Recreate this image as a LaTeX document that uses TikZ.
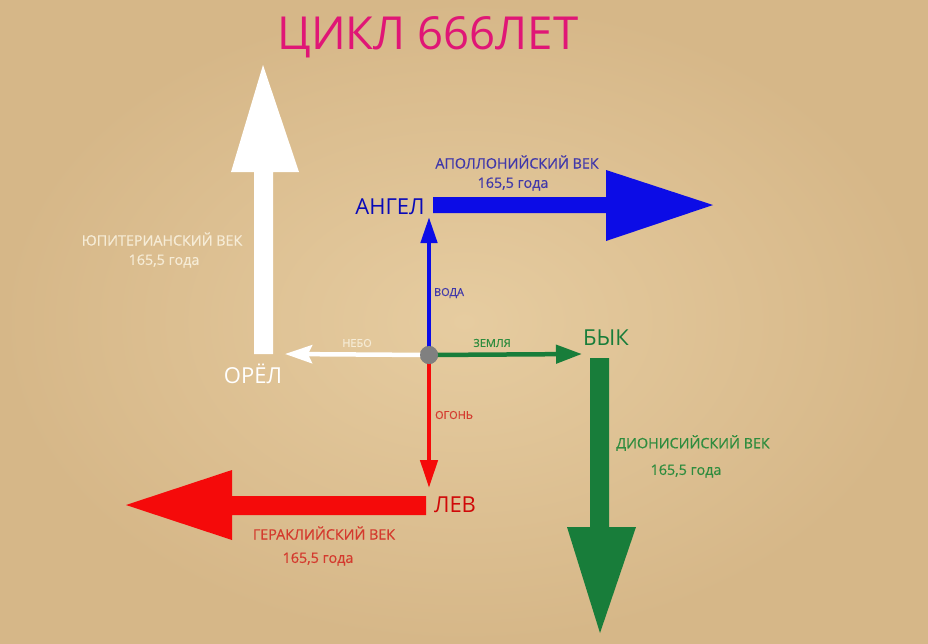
\documentclass[tikz,border=0pt]{standalone}
\usepackage{fontspec}
\setmainfont{Open Sans}
\newfontfamily\semifont[FakeBold=0.6]{Open Sans}
\usetikzlibrary{arrows.meta}
\definecolor{bgin}{RGB}{230,204,160}
\definecolor{bgout}{RGB}{214,183,136}
\definecolor{titlec}{RGB}{224,22,118}
\definecolor{whitec}{RGB}{255,255,255}
\definecolor{whitetxt}{RGB}{246,236,214}
\definecolor{bluec}{RGB}{12,12,230}
\definecolor{bluetxt}{RGB}{64,56,170}
\definecolor{greenc}{RGB}{24,125,58}
\definecolor{greentxt}{RGB}{46,140,62}
\definecolor{redc}{RGB}{245,10,10}
\definecolor{redtxt}{RGB}{212,58,46}
\definecolor{greyc}{RGB}{128,128,128}
\tikzset{
  era/.style={font=\semifont\fontsize{14.3}{16}\selectfont, inner sep=0pt, align=center},
  small/.style={font=\semifont\fontsize{11}{12}\selectfont, inner sep=0pt},
  beast/.style={font=\fontsize{22}{24}\selectfont, inner sep=0pt},
  thin/.style={line width=4.5pt}
}
\begin{document}
\begin{tikzpicture}[x=1pt,y=-1pt]
\useasboundingbox (0,0) rectangle (928,643);
\shade[inner color=bgin, outer color=bgout] (0,0) rectangle (928,643);

% title
\node[font=\fontsize{45.5}{48}\selectfont, text=titlec, inner sep=0pt] (title) at (428,37) {ЦИКЛ 666ЛЕТ};

% big arrows
\fill[whitec] (254,354) -- (254,172) -- (231,172) -- (263,65) -- (299,172) -- (273,172) -- (273,354) -- cycle;
\fill[bluec] (433,197) -- (606,197) -- (606,170) -- (713,205) -- (606,241) -- (606,213) -- (433,213) -- cycle;
\fill[greenc] (590,358) -- (609,358) -- (609,527) -- (636,527) -- (600,633) -- (567,527) -- (590,527) -- cycle;
\fill[redc] (426,496) -- (232,496) -- (232,470) -- (126,505) -- (232,540) -- (232,515) -- (426,515) -- cycle;

% beast labels
\node[beast, text=whitec] (orel) at (253,374) {ОРЁЛ};
\node[beast, text=bluec!80!black] (angel) at (390,207) {АНГЕЛ};
\node[beast, text=greenc] (byk) at (606,338) {БЫК};
\node[beast, text=redc!85!black] (lev) at (455,505) {ЛЕВ};

% centre
\node[circle, fill=greyc, minimum size=18pt, inner sep=0pt] (c) at (429,355) {};
\coordinate (wend) at (285,354);
\coordinate (gend) at (582,354);
\coordinate (bend) at (429,217);
\coordinate (rend) at (429,488);
\draw[thin, whitec, -{Stealth[length=27pt,width=18pt,inset=4pt]}] (c.center) -- (wend);
\draw[thin, greenc, -{Triangle[length=26pt,width=18pt]}] (c.center) -- (gend);
\draw[thin, bluec, -{Triangle[length=26pt,width=16pt]}] (c.center) -- (bend);
\draw[thin, redc, -{Triangle[length=28pt,width=17pt]}] (c.center) -- (rend);
\node[circle, fill=greyc, minimum size=18pt, inner sep=0pt] at (c) {};

% small labels
\node[small, text=whitetxt] (nebo) at (357,343) {НЕБО};
\node[small, text=greentxt] (zemlya) at (492,343) {ЗЕМЛЯ};
\node[small, text=bluetxt] (voda) at (449,293) {ВОДА};
\node[small, text=redtxt] (ogon) at (454,415) {ОГОНЬ};

% era labels
\node[era, text=whitetxt] (jup1) at (162,239) {ЮПИТЕРИАНСКИЙ ВЕК};
\node[era, text=whitetxt] (jup2) at (164,261) {165,5 года};
\node[era, text=bluetxt] (apo1) at (517,162) {АПОЛЛОНИЙСКИЙ ВЕК};
\node[era, text=bluetxt] (apo2) at (513,184) {165,5 года};
\node[era, text=greentxt] (dio1) at (693,443) {ДИОНИСИЙСКИЙ ВЕК};
\node[era, text=greentxt] (dio2) at (686,471) {165,5 года};
\node[era, text=redtxt] (ger1) at (324,533) {ГЕРАКЛИЙСКИЙ ВЕК};
\node[era, text=redtxt] (ger2) at (318,559) {165,5 года};
\end{tikzpicture}
\end{document}
